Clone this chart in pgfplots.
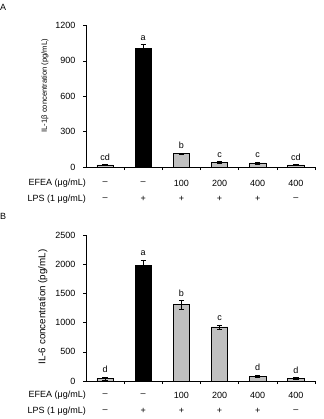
\documentclass[border=0pt]{standalone}
\usepackage{pgfplots}
\pgfplotsset{compat=1.18}
\usepackage{pgfplotstable}
\usepackage{fontspec}
\setmainfont{Liberation Sans}

\definecolor{bargray}{HTML}{C0C0C0}

\pgfplotstableread{
x y err lab
0 20 4 cd
2 115 5 b
3 40 6 c
4 36 8 c
5 20 3 cd
}\dataAgray
\pgfplotstableread{
x y err lab
1 1005 35 a
}\dataAblack
\pgfplotstableread{
x y err lab
0 40 25 d
2 1305 70 b
3 925 35 c
4 80 20 d
5 45 15 d
}\dataBgray
\pgfplotstableread{
x y err lab
1 1985 85 a
}\dataBblack

\newcommand{\ninept}{\fontsize{9bp}{10bp}\selectfont}

\begin{document}
\begin{tikzpicture}
\path[use as bounding box] (0,0) rectangle (324bp,419bp);
\pgfplotsset{
  panel/.style={
    scale only axis, width=229bp,
    xmin=-0.5, xmax=5.5, ymin=0,
    axis x line=bottom, axis y line=left,
    axis line style={-, black, line width=0.6bp},
    xtick={0.5,1.5,...,5.5}, xticklabels={},
    tick align=outside, major tick length=3bp,
    every tick/.style={black, line width=0.6bp},
    clip=false,
    /pgf/number format/assume math mode=true,
    /pgf/number format/1000 sep={},
    scaled y ticks=false,
    yticklabel style={font=\ninept, xshift=-4bp},
  },
  grayb/.style={ybar, bar shift=0pt, bar width=16.4bp, fill=bargray, draw=black, line width=0.6bp,
    error bars/.cd, y dir=both, y explicit,
    error bar style={black, line width=0.6bp},
    error mark options={rotate=90, mark size=2.6bp, black, line width=0.6bp}},
  blackb/.style={ybar, bar shift=0pt, bar width=16.4bp, fill=black, draw=black, line width=0.6bp,
    error bars/.cd, y dir=both, y explicit,
    error bar style={black, line width=0.6bp},
    error mark options={rotate=90, mark size=2.6bp, black, line width=0.6bp}},
  letters/.style={draw=none, mark=none, nodes near coords, point meta=explicit symbolic,
    every node near coord/.style={font=\ninept, anchor=south, inner sep=0pt, yshift=4bp}},
}

% Panel A
\begin{axis}[panel, at={(86bp,251.8bp)}, anchor=south west, height=141.8bp,
  ymax=1200, ytick={0,300,...,1200}]
\addplot[grayb] table[x=x, y=y, y error=err] {\dataAgray};
\addplot[blackb] table[x=x, y=y, y error=err] {\dataAblack};
\addplot[letters] table[x=x, y expr=\thisrow{y}+\thisrow{err}, meta=lab] {\dataAgray};
\addplot[letters] table[x=x, y expr=\thisrow{y}+\thisrow{err}, meta=lab] {\dataAblack};
\node[font=\fontsize{7.6bp}{9bp}\selectfont, rotate=90, anchor=center] at (axis description cs:-0.179,0.575) {IL-1β concentration (pg/mL)};
\node[font=\ninept, anchor=east, inner sep=0pt] at ([yshift=-15.8bp]axis cs:-0.5,0) {EFEA (μg/mL)};
\node[font=\ninept, anchor=east, inner sep=0pt] at ([yshift=-31.8bp]axis cs:-0.5,0) {LPS (1 μg/mL)};
\node[font=\ninept] at ([yshift=-15.8bp]axis cs:0,0) {–};
\node[font=\ninept] at ([yshift=-15.8bp]axis cs:1,0) {–};
\node[font=\ninept] at ([yshift=-15.8bp]axis cs:2,0) {100};
\node[font=\ninept] at ([yshift=-15.8bp]axis cs:3,0) {200};
\node[font=\ninept] at ([yshift=-15.8bp]axis cs:4,0) {400};
\node[font=\ninept] at ([yshift=-15.8bp]axis cs:5,0) {400};
\node[font=\ninept] at ([yshift=-31.8bp]axis cs:0,0) {–};
\node[font=\ninept] at ([yshift=-31.8bp]axis cs:1,0) {+};
\node[font=\ninept] at ([yshift=-31.8bp]axis cs:2,0) {+};
\node[font=\ninept] at ([yshift=-31.8bp]axis cs:3,0) {+};
\node[font=\ninept] at ([yshift=-31.8bp]axis cs:4,0) {+};
\node[font=\ninept] at ([yshift=-31.8bp]axis cs:5,0) {–};
\end{axis}

% Panel B
\begin{axis}[panel, at={(86bp,38bp)}, anchor=south west, height=146bp,
  ymax=2500, ytick={0,500,...,2500}]
\addplot[grayb] table[x=x, y=y, y error=err] {\dataBgray};
\addplot[blackb] table[x=x, y=y, y error=err] {\dataBblack};
\addplot[letters] table[x=x, y expr=\thisrow{y}+\thisrow{err}, meta=lab] {\dataBgray};
\addplot[letters] table[x=x, y expr=\thisrow{y}+\thisrow{err}, meta=lab] {\dataBblack};
\node[font=\fontsize{9.8bp}{11bp}\selectfont, rotate=90, anchor=center] at (axis description cs:-0.188,0.507) {IL-6 concentration (pg/mL)};
\node[font=\ninept, anchor=east, inner sep=0pt] at ([yshift=-14bp]axis cs:-0.5,0) {EFEA (μg/mL)};
\node[font=\ninept, anchor=east, inner sep=0pt] at ([yshift=-30bp]axis cs:-0.5,0) {LPS (1 μg/mL)};
\node[font=\ninept] at ([yshift=-14bp]axis cs:0,0) {–};
\node[font=\ninept] at ([yshift=-14bp]axis cs:1,0) {–};
\node[font=\ninept] at ([yshift=-14bp]axis cs:2,0) {100};
\node[font=\ninept] at ([yshift=-14bp]axis cs:3,0) {200};
\node[font=\ninept] at ([yshift=-14bp]axis cs:4,0) {400};
\node[font=\ninept] at ([yshift=-14bp]axis cs:5,0) {400};
\node[font=\ninept] at ([yshift=-30bp]axis cs:0,0) {–};
\node[font=\ninept] at ([yshift=-30bp]axis cs:1,0) {+};
\node[font=\ninept] at ([yshift=-30bp]axis cs:2,0) {+};
\node[font=\ninept] at ([yshift=-30bp]axis cs:3,0) {+};
\node[font=\ninept] at ([yshift=-30bp]axis cs:4,0) {+};
\node[font=\ninept] at ([yshift=-30bp]axis cs:5,0) {–};
\end{axis}

\node[font=\ninept, anchor=west, inner sep=0pt] at (0bp,411.5bp) {A};
\node[font=\ninept, anchor=west, inner sep=0pt] at (0bp,202.3bp) {B};
\end{tikzpicture}
\end{document}
